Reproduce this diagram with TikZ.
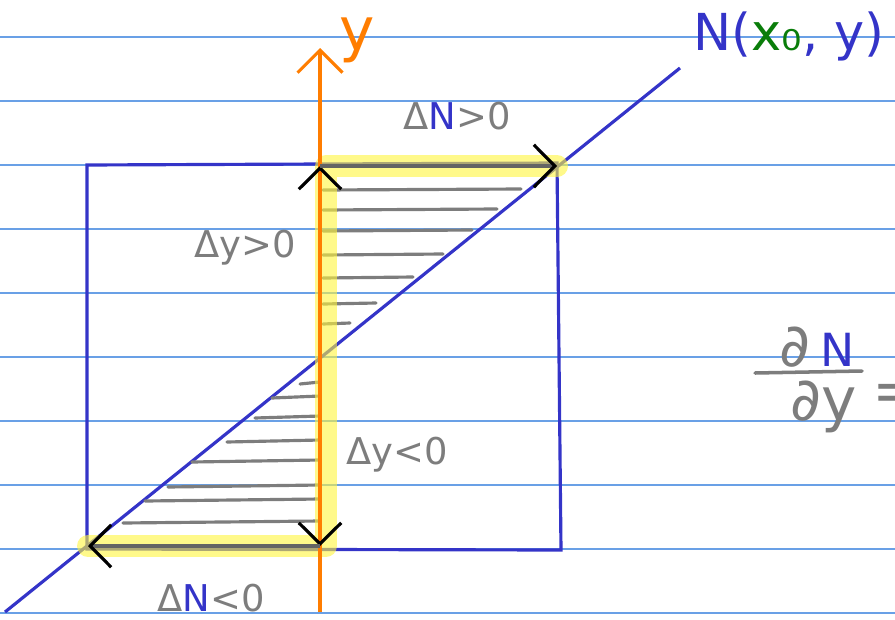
\documentclass[tikz,border=0pt]{standalone}
\usepackage{fontspec}
\setmainfont{DejaVu Sans}
\usetikzlibrary{arrows.meta, positioning}
\definecolor{rulecol}{RGB}{105,160,230}
\definecolor{penblue}{RGB}{52,52,200}
\definecolor{pengrey}{RGB}{125,125,125}
\definecolor{penorange}{RGB}{255,125,0}
\definecolor{pengreen}{RGB}{10,125,10}
\definecolor{penyellow}{RGB}{255,245,60}

\begin{document}
\begin{tikzpicture}[x=0.02cm, y=-0.02cm,
    rule/.style={draw=rulecol, line width=0.8pt},
    frame/.style={draw=penblue, line width=1.8pt},
    hatch/.style={draw=pengrey, line width=1.8pt, line cap=round},
    glow/.style={draw=penyellow, line width=0.44cm, line cap=round, line join=round, opacity=0.6},
    arrow/.style={-{Straight Barb[black, length=4.2mm, width=8.5mm, line width=1.8pt]}, draw=pengrey!80!black, line width=1.8pt},
    note/.style={text=pengrey, font=\fontsize{21}{25}\selectfont},
    bignote/.style={text=pengrey, font=\fontsize{34}{40}\selectfont, inner sep=0pt}
]
\useasboundingbox (0,0) rectangle (895,619);
\clip (0,0) rectangle (895,619);

% ruled paper
\foreach \r in {37,101,...,613}
  \draw[rule] (0,\r) -- (895,\r);

\coordinate (orig) at (320,358);
\coordinate (top) at (320,166);
\coordinate (bot) at (320,546);
\coordinate (topright) at (557,166);
\coordinate (botleft) at (88,546);
\coordinate (lowend) at (5,612);
\coordinate (highend) at (680,68);

% box and the line N(x0,y)
\draw[frame] (87,165) -- (557,163) -- (561,550) -- (87,549) -- cycle;
\draw[frame] (lowend) -- (highend);

% shaded parts
\foreach \yy/\xx in {190/521, 210/497, 231/472, 255/443, 278/413, 304/376, 324/350}
  \draw[hatch] (323,\yy) -- (\xx,\yy-1);
\foreach \yy/\xx in {384/300, 398/272, 418/255, 442/227, 462/192, 487/168, 501/145, 523/123}
  \draw[hatch] (\xx,\yy) -- (320,\yy-2);

% highlighter
\draw[glow] (topright) -- (326,166) -- (326,546) -- (botleft);

% y axis
\draw[draw=penorange, line width=1.8pt, -{Straight Barb[length=4.5mm, width=9mm, line width=1.8pt]}] (320,612) -- (320,48);
\node[text=penorange, font=\fontsize{34}{40}\selectfont] (ylab) at (357,40) {y};

% steps
\draw[arrow, draw=penorange] (orig) -- (top);
\draw[arrow, draw=penorange] (orig) -- (bot);
\draw[arrow] (top) -- (topright);
\draw[arrow] (bot) -- (botleft);

% labels
\node[note] (dnpos) at (457,116) {Δ\textcolor{penblue}{N}>0};
\node[note] (dypos) at (245,248) {Δy>0};
\node[note] (dyneg) at (397,455) {Δy<0};
\node[note] (dnneg) at (211,598) {Δ\textcolor{penblue}{N}<0};
\node[text=penblue, font=\fontsize{29}{34}\selectfont] (ntitle) at (789,36)
  {N(\textcolor{pengreen}{x₀}, y)};

% partial derivative, cut at the edge
\node[bignote, anchor=base] (numer) at (817,366) {∂\,\textcolor{penblue}{\fontsize{26}{30}\selectfont N}};
\draw[hatch, line width=2pt] (755,373) -- (862,371);
\node[bignote, anchor=base] (denom) at (824,420) {∂y};
\node[bignote, anchor=west] (equals) at (872,398) {=};
\end{tikzpicture}
\end{document}
